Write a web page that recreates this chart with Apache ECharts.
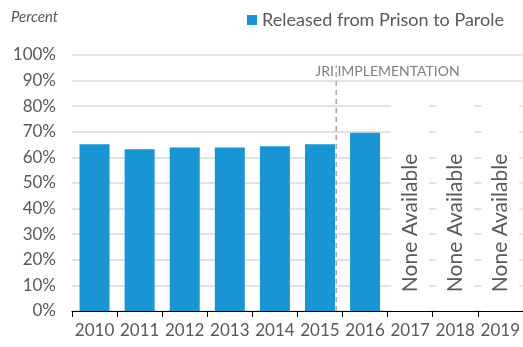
<!DOCTYPE html>
<html>
<head>
<meta charset="utf-8">
<script src="https://cdn.jsdelivr.net/npm/echarts@6/dist/echarts.min.js"></script>
<style>
  html, body { margin: 0; padding: 0; background: #fff; }
  #chart { width: 523px; height: 347px; }
</style>
</head>
<body>
<div id="chart"></div>
<script>
// Data
const years = ['2010', '2011', '2012', '2013', '2014', '2015', '2016', '2017', '2018', '2019'];
const paroleRates = [65.1, 63.2, 63.9, 63.9, 64.4, 65.1, 69.6, null, null, null];
// text boxes for years with no data (height in percent)
const noDataBoxes = [null, null, null, null, null, null, null, 86, 86, 86];
const yTicks = [0, 10, 20, 30, 40, 50, 60, 70, 80, 90, 100];
// JRI line sits a bit left of the 2015/2016 boundary (category units)
const jriPos = 5.36;
const jriTop = 96;

const chart = echarts.init(document.getElementById('chart'));
const textColor = '#595959';

chart.setOption({
    animation: false,
    textStyle: { fontFamily: 'Lato, sans-serif' },
    grid: { left: 72, right: -1, top: 55, bottom: 36 },
    title: {
        text: 'Percent',
        left: 6,
        top: 5,
        textStyle: { fontFamily: 'Lato', fontStyle: 'italic', fontWeight: 'normal', fontSize: 15, color: textColor }
    },
    legend: {
        data: ['Released from Prison to Parole'],
        right: 14,
        top: 6,
        itemWidth: 10,
        itemHeight: 10,
        itemGap: 5,
        icon: 'rect',
        textStyle: { fontFamily: 'Lato', fontSize: 18, color: textColor }
    },
    xAxis: [{
        type: 'category',
        data: years,
        z: 5,
        axisLine: { lineStyle: { color: '#000', width: 1 } },
        axisTick: { show: true, length: 6, lineStyle: { color: '#000' } },
        axisLabel: { color: textColor, fontSize: 17, margin: 11, interval: 0 }
    }, {
        type: 'category',
        data: years,
        show: false
    }, {
        type: 'value',
        min: -0.5,
        max: 9.5,
        show: false
    }],
    yAxis: {
        type: 'value',
        min: 0,
        max: 100,
        interval: 10,
        axisLine: { show: false },
        axisTick: { show: false },
        axisLabel: {
            color: textColor,
            fontSize: 17,
            margin: 16,
            formatter: v => yTicks.includes(v) ? v + '%' : ''
        },
        splitLine: { lineStyle: { color: '#d9d9d9', width: 1.5 } }
    },
    series: [{
        name: 'Released from Prison to Parole',
        type: 'bar',
        data: paroleRates,
        barWidth: 30,
        itemStyle: { color: '#1995d3' },
        z: 3
    }, {
        name: 'none',
        type: 'bar',
        xAxisIndex: 1,
        data: noDataBoxes,
        barWidth: 38,
        itemStyle: { color: '#fff' },
        label: {
            show: true,
            formatter: 'None Available',
            rotate: 90,
            position: ['50%', '60%'],
            align: 'center',
            verticalAlign: 'middle',
            fontSize: 21,
            color: textColor
        },
        z: 2
    }, {
        name: 'jri',
        type: 'line',
        xAxisIndex: 2,
        data: [[jriPos, 0], [jriPos, jriTop]],
        symbol: 'none',
        lineStyle: { color: '#a6a6a6', width: 1.5, type: [5, 4] },
        z: 4
    }]
});

// JRI label placed relative to the top of the dashed line
const jriPx = chart.convertToPixel({ xAxisIndex: 2, yAxisIndex: 0 }, [jriPos, jriTop]);
chart.setOption({
    graphic: [{
        type: 'text',
        x: jriPx[0] - 21,
        y: jriPx[1] + 6,
        style: {
            text: 'JRI IMPLEMENTATION',
            fill: '#7f7f7f',
            font: '14px Lato',
            verticalAlign: 'middle'
        },
        z: 10
    }]
});
</script>
</body>
</html>
